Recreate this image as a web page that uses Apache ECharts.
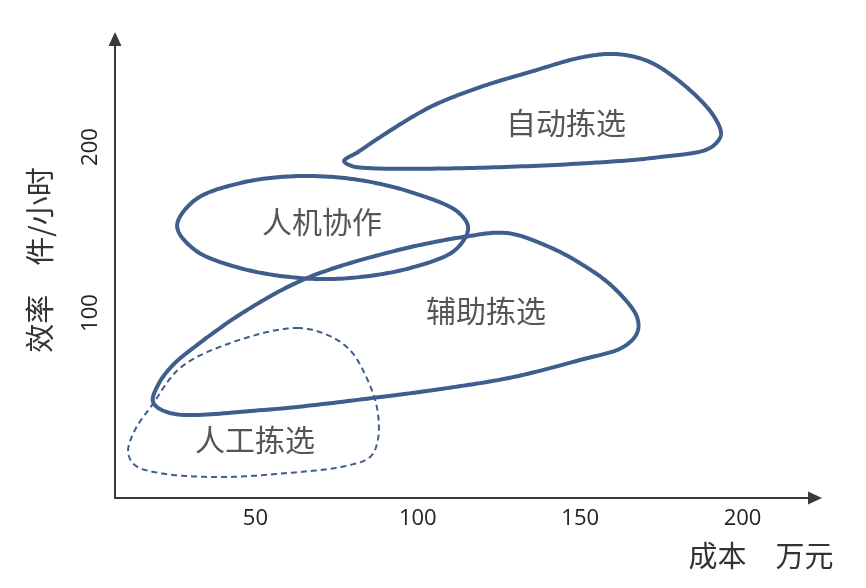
<!DOCTYPE html>
<html><head><meta charset="utf-8">
<script src="https://cdn.jsdelivr.net/npm/echarts@6/dist/echarts.min.js"></script>
<style>html,body{margin:0;padding:0;background:#fff}#c{width:866px;height:588px}</style>
</head><body><div id="c"></div>
<script>
// axis ticks
const xTicks = [50, 100, 150, 200];
const yTicks = [100, 200];
// region outlines [cost, efficiency]
const autoPick = [[77.3,191.6],[81.6,197.0],[88.4,206.0],[103.8,224.1],[119.2,236.1],[134.5,245.2],[150.9,254.2],[161.3,256.0],[171.5,251.2],[183.8,234.3],[191.5,217.5],[193.3,207.2],[189.9,199.4],[174.6,194.0],[153.0,190.4],[113.9,187.3],[85.3,187.3],[79.7,188.6]];
const humanMachine = [[25.9,152.4],[31.4,168.1],[45.3,178.3],[62.8,182.5],[82.2,180.1],[100.7,171.1],[112.4,160.8],[115.5,151.2],[111.5,138.0],[97.6,127.1],[79.1,121.1],[63.7,121.1],[45.3,127.1],[31.4,138.0]];
const assistPick = [[18.5,46.4],[20.0,56.6],[24.3,68.1],[32.0,80.7],[47.4,101.8],[65.9,121.1],[91.4,136.7],[113.9,145.8],[127.5,148.2],[139.8,140.4],[149.9,130.1],[160.1,115.7],[167.5,97.6],[167.5,88.0],[163.2,79.5],[149.9,71.7],[129.3,61.4],[109.0,54.8],[88.4,49.4],[52.3,41.6],[23.7,39.8]];
const manualPick = [[62.8,91.0],[73.0,86.1],[79.1,77.7],[83.1,65.7],[87.4,43.4],[87.7,23.5],[85.3,13.3],[77.6,7.8],[59.7,3.6],[39.1,1.2],[20.6,3.6],[12.9,8.4],[10.8,16.3],[12.9,29.5],[18.2,44.6],[26.8,66.9],[42.2,81.9]];
// region labels
const regionNames = ['自动拣选', '人机协作', '辅助拣选', '人工拣选'];
const regionLabelX = [145.6, 70.5, 121.0, 49.9];
const regionLabelY = [215.0, 155.4, 101.5, 23.5];

const LINE = '#3F5E8C';

// centripetal Catmull-Rom rendering of a closed outline (screen space)
function crSegment(p0, p1, p2, p3, n) {
  const d = (a, b) => Math.pow(Math.hypot(b[0] - a[0], b[1] - a[1]), 0.5) || 1e-4;
  const t0 = 0, t1 = t0 + d(p0, p1), t2 = t1 + d(p1, p2), t3 = t2 + d(p2, p3);
  const out = [];
  for (let k = 0; k < n; k++) {
    const t = t1 + (t2 - t1) * k / n;
    const lerp = (a, b, ta, tb) => [
      (tb - t) / (tb - ta) * a[0] + (t - ta) / (tb - ta) * b[0],
      (tb - t) / (tb - ta) * a[1] + (t - ta) / (tb - ta) * b[1]
    ];
    const A1 = lerp(p0, p1, t0, t1), A2 = lerp(p1, p2, t1, t2), A3 = lerp(p2, p3, t2, t3);
    const B1 = lerp(A1, A2, t0, t2), B2 = lerp(A2, A3, t1, t3);
    out.push(lerp(B1, B2, t1, t2));
  }
  return out;
}
function closedSpline(pts) {
  const n = pts.length, out = [];
  for (let i = 0; i < n; i++) {
    out.push(...crSegment(pts[(i - 1 + n) % n], pts[i], pts[(i + 1) % n], pts[(i + 2) % n], 24));
  }
  return out;
}

function loopSeries(pts, width, dashed) {
  return {
    type: 'custom', coordinateSystem: 'cartesian2d', data: pts, silent: true, clip: false,
    renderItem(params, api) {
      if (params.dataIndex !== 0) return null;
      const points = closedSpline(pts.map(p => api.coord(p)));
      return {
        type: 'polygon',
        shape: { points: points },
        style: { fill: 'none', stroke: LINE, lineWidth: width, lineDash: dashed ? [6, 4] : null, lineJoin: 'round' }
      };
    }
  };
}

const chart = echarts.init(document.getElementById('c'));
const labelFont = '"Noto Sans CJK SC", sans-serif';
chart.setOption({
  backgroundColor: '#ffffff',
  animation: false,
  grid: { left: 115, right: 51, top: 39, bottom: 90 },
  xAxis: {
    type: 'value', min: 6.77, max: 222.3,
    axisLine: { onZero: false, symbol: ['none', 'triangle'], symbolSize: [13, 14], lineStyle: { color: '#3a3a3a', width: 2 } },
    axisTick: { show: false },
    splitLine: { show: false },
    axisLabel: { customValues: xTicks, margin: 10, fontSize: 22, color: '#222', fontFamily: '"Open Sans", sans-serif' }
  },
  yAxis: {
    type: 'value', min: -11.4, max: 265.1,
    axisLine: { onZero: false, symbol: ['none', 'triangle'], symbolSize: [13, 14], lineStyle: { color: '#3a3a3a', width: 2 } },
    axisTick: { show: false },
    splitLine: { show: false },
    axisLabel: { customValues: yTicks, rotate: 90, margin: 13, fontSize: 22, color: '#222', fontFamily: '"Open Sans", sans-serif' }
  },
  graphic: [
    { type: 'text', x: 40, y: 260, rotation: Math.PI / 2, style: { text: '效率　件/小时', fontSize: 29, fontFamily: labelFont, fill: '#333', align: 'center', verticalAlign: 'middle' } },
    { type: 'text', x: 761, y: 556, style: { text: '成本　万元', fontSize: 29, fontFamily: labelFont, fill: '#333', align: 'center', verticalAlign: 'middle' } }
  ],
  series: [
    loopSeries(autoPick, 4, false),
    loopSeries(humanMachine, 4, false),
    loopSeries(assistPick, 4, false),
    loopSeries(manualPick, 2, true),
    {
      type: 'scatter', symbolSize: 0, silent: true,
      data: regionNames.map((n, i) => ({ name: n, value: [regionLabelX[i], regionLabelY[i]] })),
      label: { show: true, position: 'inside', formatter: '{b}', fontSize: 30, color: '#2b2b2b', fontFamily: labelFont }
    }
  ]
});
</script>
</body></html>
